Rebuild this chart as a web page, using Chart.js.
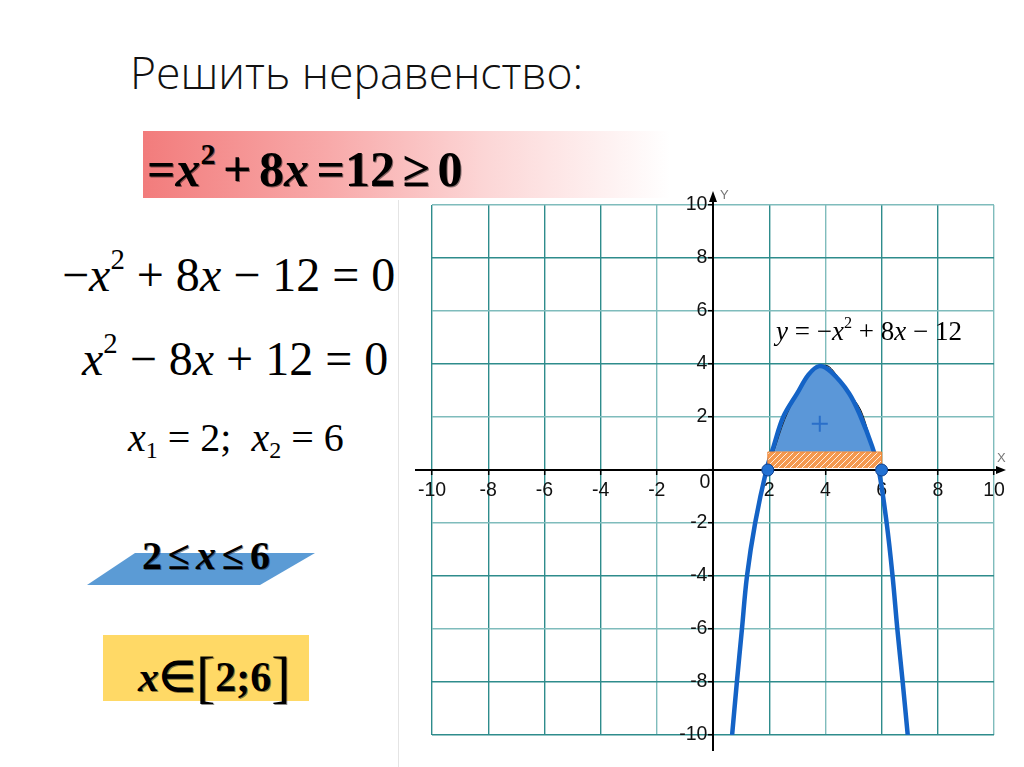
<!DOCTYPE html>
<html lang="ru">
<head>
<meta charset="utf-8">
<title>Решить неравенство</title>
<script src="https://cdn.jsdelivr.net/npm/chart.js@4.4.1/dist/chart.umd.min.js"></script>
<style>
  html, body { margin: 0; padding: 0; background: #fff; }
  body { width: 1024px; height: 767px; position: relative; overflow: hidden; }
  .t { position: absolute; white-space: nowrap; line-height: 1; font-family: "Liberation Serif", "Times New Roman", serif; color: #000; }
  .t sup { font-size: 0.6em; vertical-align: 0.75em; line-height: 0; }
  .t sub { font-size: 0.6em; vertical-align: -0.3em; line-height: 0; }
  #title { left: 130px; top: 50px; font-family: "Open Sans", sans-serif; font-weight: 300; font-size: 44.5px; color: #111; }
  #pink { position: absolute; left: 143px; top: 131px; width: 527px; height: 67px;
          background: linear-gradient(to right, #f27c7c 0%, #f8a9a9 35%, #fcd6d6 65%, #ffffff 100%); }
  #ineq { left: 147px; top: 144px; font-size: 50px; font-weight: bold; word-spacing: -0.1em; text-shadow: 1px 1px 0 rgba(0,0,0,0.45); }
  #eq1 { left: 62px; top: 251px; font-size: 48px; }
  #eq2 { left: 82px; top: 335px; font-size: 48px; }
  #roots { left: 128px; top: 418px; font-size: 40px; }
  #para { position: absolute; left: 0; top: 0; }
  #range { left: 142px; top: 536px; font-size: 40px; font-weight: bold; word-spacing: -0.1em; text-shadow: 1px 1px 0 rgba(0,0,0,0.45); }
  #yellow { position: absolute; left: 103px; top: 635px; width: 206px; height: 66px; background: #ffd966; }
  #answer { left: 138px; top: 648px; font-size: 42px; font-weight: bold; text-shadow: 1px 1px 0 rgba(0,0,0,0.45); }
  #answer .br { font-size: 58px; font-weight: normal; vertical-align: -0.08em; }
  #frame { position: absolute; left: 398px; top: 200px; width: 0; height: 567px; border-left: 1px solid #e4e4e4; }
  #box { position: absolute; left: 400px; top: 180px; width: 624px; height: 587px; }
  #func { left: 776px; top: 318px; font-size: 27px; }
</style>
</head>
<body>
<div id="title" class="t">Решить неравенство:</div>

<div id="pink"></div>
<div id="ineq" class="t">=<i>x</i><sup>2</sup> + 8<i>x</i> =12 ≥ 0</div>

<div id="eq1" class="t">−<i>x</i><sup>2</sup> + 8<i>x</i> − 12 = 0</div>
<div id="eq2" class="t"><i>x</i><sup>2</sup> − 8<i>x</i> + 12 = 0</div>
<div id="roots" class="t"><i>x</i><sub>1</sub> = 2;&nbsp; <i>x</i><sub>2</sub> = 6</div>

<svg id="para" width="400" height="767"><polygon points="135,553 315,553 260,585 87,585" fill="#5b9bd5"/></svg>
<div id="range" class="t">2 ≤ <i>x</i> ≤ 6</div>

<div id="yellow"></div>
<div id="answer" class="t"><i>x</i>∈<span class="br">[</span>2;6<span class="br">]</span></div>

<div id="frame"></div>
<div id="box"><canvas id="graph"></canvas></div>
<div id="func" class="t"><i>y</i> = −<i>x</i><sup>2</sup> + 8<i>x</i> − 12</div>

<script>
// значения
const tickValues = [-10, -8, -6, -4, -2, 0, 2, 4, 6, 8, 10];

// толстая синяя кривая (нарисована от руки, не точно по формуле)
const curveX = [0.68, 0.85, 1.03, 1.21, 1.5, 1.9, 2.16, 2.5, 3.0, 3.4, 3.78, 4.2, 4.84, 5.26, 5.66, 5.9, 6.18, 6.39, 6.56, 6.75, 6.93];
const curveY = [-10, -8, -6, -4, -2, 0, 0.9, 2, 2.9, 3.6, 3.92, 3.7, 2.9, 2, 0.9, 0, -2, -4, -6, -8, -10];

// закрашенная область над осью
const fillX = [2.16, 2.55, 3.0, 3.4, 3.75, 4.14, 4.7, 5.26, 5.72];
const fillY = [0.69, 1.9, 2.9, 3.6, 3.93, 3.9, 3.1, 2.26, 0.69];

// заштрихованный промежуток [2; 6]
const barX = [1.95, 1.95, 6.0, 6.0];
const barY = [0.08, 0.68, 0.68, 0.08];

// корни и знак «+»
const rootX = [1.95, 6.0];
const rootY = [0, 0];
const plusX = [3.8];
const plusY = [1.75];

const pts = (xs, ys) => xs.map((x, i) => ({ x: x, y: ys[i] }));

function hatch() {
  const c = document.createElement('canvas');
  c.width = 6; c.height = 6;
  const g = c.getContext('2d');
  g.fillStyle = '#f5994f';
  g.fillRect(0, 0, 6, 6);
  g.strokeStyle = 'rgba(255,255,255,0.85)';
  g.lineWidth = 1;
  g.beginPath();
  g.moveTo(0, 6); g.lineTo(6, 0);
  g.moveTo(-3, 3); g.lineTo(3, -3);
  g.moveTo(3, 9); g.lineTo(9, 3);
  g.stroke();
  return g.createPattern(c, 'repeat');
}

const lightX = [-2, 4, 10];
const lightY = [10, 6, 2, -2, -6];
const gridColor = (light) => (ctx) =>
  light.includes(ctx.tick.value) ? '#7fbcbc' : '#2e8c8c';

const sansFamily = '"Liberation Sans", Arial, sans-serif';
const labelSize = 19.5;

// стрелки осей, буквы X, Y и «0»
const axesPlugin = {
  id: 'axesArrows',
  beforeDatasetsDraw(chart) {
    const { ctx, chartArea: a, scales: { x, y } } = chart;
    const x0 = x.getPixelForValue(0);
    const y0 = y.getPixelForValue(0);
    ctx.save();
    ctx.strokeStyle = '#000';
    ctx.fillStyle = '#000';
    ctx.lineWidth = 2;
    ctx.beginPath();
    ctx.moveTo(a.left - 17, y0); ctx.lineTo(a.right + 4, y0);
    ctx.moveTo(x0, a.top - 4); ctx.lineTo(x0, a.bottom + 16);
    ctx.stroke();
    ctx.beginPath();
    ctx.moveTo(a.right + 12, y0); ctx.lineTo(a.right + 2, y0 - 4); ctx.lineTo(a.right + 2, y0 + 4);
    ctx.closePath(); ctx.fill();
    ctx.beginPath();
    ctx.moveTo(x0, a.top - 14); ctx.lineTo(x0 - 4, a.top - 3); ctx.lineTo(x0 + 4, a.top - 3);
    ctx.closePath(); ctx.fill();
    ctx.font = '13px ' + sansFamily;
    ctx.fillStyle = '#777';
    ctx.textAlign = 'left';
    ctx.textBaseline = 'alphabetic';
    ctx.fillText('X', a.right + 3, y0 - 8);
    ctx.fillText('Y', x0 + 7, a.top - 6);
    ctx.font = labelSize + 'px ' + sansFamily;
    ctx.fillStyle = '#111';
    ctx.textAlign = 'center';
    ctx.textBaseline = 'top';
    ctx.fillText('0', x0 - 8, y0 + 3);
    ctx.restore();
  }
};

// у оси в позиции {x: 0} Chart.js не добавляет padding, поэтому отступ — тонким пробелом
const axisOpts = (light, pad, suffix) => ({
  type: 'linear',
  min: -10,
  max: 10,
  afterBuildTicks: (s) => { s.ticks = tickValues.map(v => ({ value: v })); },
  grid: { color: gridColor(light), lineWidth: 1.4, tickLength: 4, tickColor: '#000', tickWidth: 1.5 },
  border: { display: true, color: '#000', width: 2 },
  ticks: {
    autoSkip: false,
    maxRotation: 0,
    padding: pad,
    color: '#111',
    font: { family: sansFamily, size: labelSize },
    callback: (v) => (v === 0 ? '' : String(v) + suffix)
  }
});

new Chart(document.getElementById('graph'), {
  type: 'scatter',
  data: {
    datasets: [
      {
        data: pts(rootX, rootY),
        order: 0,
        pointRadius: 6,
        pointBackgroundColor: '#2271d2',
        pointBorderColor: '#0d3f8f',
        pointBorderWidth: 1
      },
      {
        data: pts(plusX, plusY),
        order: 1,
        pointStyle: 'cross',
        pointRadius: 8,
        pointBorderColor: '#2a6fc9',
        pointBorderWidth: 2
      },
      {
        data: pts(barX, barY),
        order: 2,
        showLine: true,
        pointRadius: 0,
        borderColor: '#ee8a3c',
        borderWidth: 1,
        backgroundColor: hatch(),
        fill: { value: 0.08 }
      },
      {
        data: pts(curveX, curveY),
        order: 3,
        showLine: true,
        pointRadius: 0,
        borderColor: '#1463c6',
        borderWidth: 4.5,
        tension: 0.35,
        fill: false
      },
      {
        data: pts(fillX, fillY),
        order: 4,
        showLine: true,
        pointRadius: 0,
        borderColor: '#1a1a1a',
        borderWidth: 1,
        tension: 0.3,
        backgroundColor: '#5b97d8',
        fill: { value: 0.69 }
      }
    ]
  },
  options: {
    responsive: true,
    maintainAspectRatio: false,
    animation: false,
    layout: { padding: { left: 32, right: 30, top: 25, bottom: 32 } },
    plugins: { legend: { display: false }, tooltip: { enabled: false } },
    scales: {
      x: Object.assign(axisOpts(lightX, 5, ''), { position: { y: 0 } }),
      y: Object.assign(axisOpts(lightY, 0, '\u2009\u200a'), { position: { x: 0 } })
    }
  },
  plugins: [axesPlugin]
});
</script>
</body>
</html>
